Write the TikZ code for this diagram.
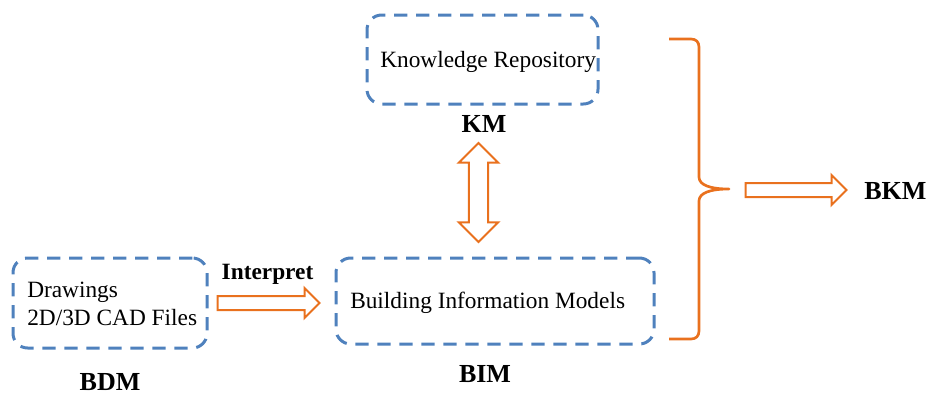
\documentclass[tikz,border=0pt]{standalone}
\usepackage{fontspec}
\setmainfont{Liberation Serif}
\usetikzlibrary{shapes.arrows}

\begin{document}
\begin{tikzpicture}[x=0.75pt,y=0.75pt,yscale=-1,xscale=1,
    dbox/.style={draw, color={rgb, 255:red, 79; green, 129; blue, 189 }, line width=2.25, dash pattern=on 10pt off 6.5pt, rounded corners=11pt, inner sep=0pt},
    txt/.style={font=\fontsize{17.5}{21}\selectfont, inner sep=0pt},
    tag/.style={font=\fontsize{19.5}{23}\selectfont\bfseries, inner sep=0pt},
    hollow/.style={single arrow, draw, color={rgb, 255:red, 233; green, 113; blue, 30 }, line width=1.5, single arrow head extend=6pt, single arrow tip angle=90, inner sep=4.5pt, outer sep=0pt},
    hollowboth/.style={double arrow, draw, color={rgb, 255:red, 233; green, 113; blue, 30 }, line width=1.5, double arrow head extend=7.5pt, double arrow tip angle=90, inner sep=6.5pt, outer sep=0pt, shape border rotate=90},
    bracket/.style={color={rgb, 255:red, 233; green, 113; blue, 30 }, line width=2, line join=round}]
        \useasboundingbox (0,0) rectangle (929,394);

        %Rounded Rect [id:kr]
        \node [dbox, minimum width=173.25pt, minimum height=66.75pt] (kr) at (482.5,59.5) {};
        %Rounded Rect [id:bim]
        \node [dbox, minimum width=238.5pt, minimum height=64.5pt] (bim) at (495,301) {};
        %Rounded Rect [id:bdm]
        \node [dbox, minimum width=145.5pt, minimum height=67.5pt] (bdm) at (110,303) {};

        % Text Node
        \node [txt, anchor=base west] (krtext) at (380,67) {Knowledge Repository};
        % Text Node
        \node [txt, anchor=base west] (bimtext) at (350,308) {Building Information Models};
        % Text Node
        \node [txt, anchor=base west, align=left] (bdmtext) at (27,325) {Drawings\\2D/3D CAD Files};
        % Text Node
        \node [tag, anchor=base] (km) at (484,132) {KM};
        % Text Node
        \node [tag, anchor=base] (bimtag) at (485,382) {BIM};
        % Text Node
        \node [tag, anchor=base] (bdmtag) at (110,390) {BDM};
        % Text Node
        \node [txt, anchor=base, font=\fontsize{17.5}{21}\selectfont\bfseries] (interp) at (267.5,279) {Interpret};
        % Text Node
        \node [tag, anchor=base west] (bkm) at (864,199) {BKM};

        %Right Arrow [id:interparrow]
        \node [hollow, minimum height=76.5pt] (interparrow) at (265,303) {};
        %Right Arrow [id:bkmarrow]
        \node [hollow, minimum height=75.75pt] (bkmarrow) at (792.5,190) {};
        %Up Down Arrow [id:kmarrow]
        \node [hollowboth, minimum height=74.25pt] (kmarrow) at (478.5,192.5) {};

        %Curve Lines [id:brace]
        \draw [bracket] (669,39) -- (691,39) .. controls (696,39) and (699,42) .. (699,47) -- (699,177) .. controls (699,185) and (710,189) .. (729,189) .. controls (710,189) and (699,193) .. (699,201) -- (699,331) .. controls (699,336) and (696,339) .. (691,339) -- (669,339) ;

\end{tikzpicture}
\end{document}
